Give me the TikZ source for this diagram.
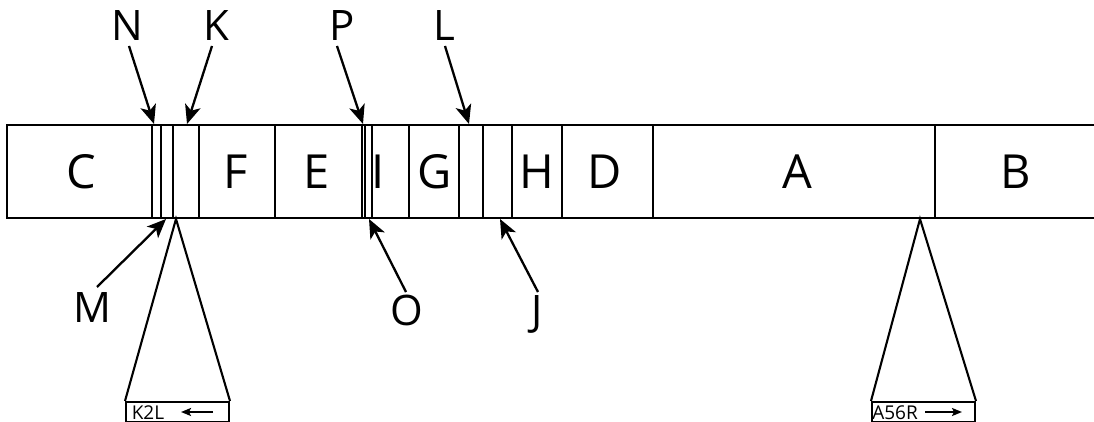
\documentclass[tikz,border=0pt]{standalone}
\usepackage{fontspec}
\setmainfont{Open Sans}
\usetikzlibrary{arrows.meta}
\begin{document}
\begin{tikzpicture}[x=1pt,y=-1pt,
  outline/.style={line width=2.6pt},
  divider/.style={line width=2.2pt},
  region/.style={font=\fontsize{47}{47}\selectfont, anchor=base, inner sep=0pt},
  tag/.style={font=\fontsize{42}{42}\selectfont, anchor=base, inner sep=0pt},
  ptr/.style={line width=2.3pt, -{Stealth[length=19pt,width=16pt,inset=5pt]}},
  fan/.style={line width=2.1pt},
  probe/.style={line width=2pt},
  small/.style={font=\fontsize{19}{19}\selectfont, anchor=base, inner sep=0pt},
  dir/.style={line width=2pt, -{Stealth[length=10pt,width=8pt,inset=2pt]}}]
\useasboundingbox (0,0) rectangle (1094,422);

% the strip
\draw[outline] (1094,125) -- (7,125) -- (7,218) -- (1094,218);
\foreach \x in {152,161,173,199,275,362,365,372,409,459,483,512,562,653,935}
  \draw[divider] (\x,125) -- (\x,218);

% region names
\node[region] (C) at (81,189) {C};
\node[region] (F) at (236,189) {F};
\node[region] (E) at (317,189) {E};
\node[region] (I) at (378,189) {I};
\node[region] (G) at (435,189) {G};
\node[region] (H) at (537,189) {H};
\node[region] (D) at (605,189) {D};
\node[region] (A) at (797,189) {A};
\node[region] (B) at (1016,189) {B};

% pointer labels above
\node[tag] (N) at (127,41) {N};
\node[tag] (K) at (216,41) {K};
\node[tag] (P) at (342,41) {P};
\node[tag] (L) at (444,41) {L};
% pointer labels below
\node[tag] (M) at (92,322) {M};
\node[tag] (O) at (407,325) {O};
\node[tag] (J) at (537,325) {J};

\coordinate (N-from) at (129,46);  \coordinate (N-to) at (154,124);
\coordinate (K-from) at (212,46);  \coordinate (K-to) at (187,124);
\coordinate (P-from) at (337,46);  \coordinate (P-to) at (363,124);
\coordinate (L-from) at (445,46);  \coordinate (L-to) at (469,124);
\coordinate (M-from) at (97,287);  \coordinate (M-to) at (166,219);
\coordinate (O-from) at (406,292); \coordinate (O-to) at (369,219);
\coordinate (J-from) at (538,292); \coordinate (J-to) at (500,219);

\foreach \p in {N,K,P,L,M,O,J}
  \draw[ptr] (\p-from) -- (\p-to);

% magnified sites
\node[probe, draw, minimum width=103pt, minimum height=20pt, anchor=north west, inner sep=0pt] (k2l) at (125,401) {};
\node[probe, draw, minimum width=103pt, minimum height=20pt, anchor=north west, inner sep=0pt] (a56r) at (871,401) {};
\coordinate (k2l-site) at (176,219);
\coordinate (a56r-site) at (920,219);
\draw[fan] (k2l.north west) -- (k2l-site) -- (k2l.north east);
\draw[fan] (a56r.north west) -- (a56r-site) -- (a56r.north east);

\node[small] (k2l-text) at (148,419) {K2L};
\coordinate (k2l-a) at (213,412); \coordinate (k2l-b) at (181,412);
\draw[dir] (k2l-a) -- (k2l-b);
\node[small] (a56r-text) at (895,419) {A56R};
\coordinate (a56r-a) at (925,412); \coordinate (a56r-b) at (962,412);
\draw[dir] (a56r-a) -- (a56r-b);
\end{tikzpicture}
\end{document}
